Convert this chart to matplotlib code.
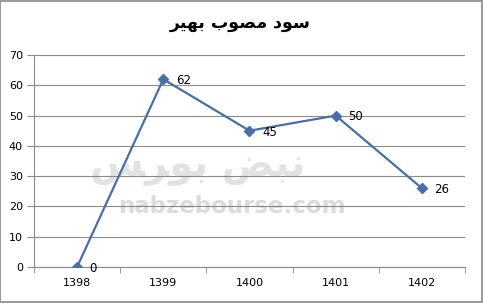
import numpy as np
import matplotlib.pyplot as plt
from matplotlib.patches import Rectangle

# data
years = ['1398', '1399', '1400', '1401', '1402']
profit = [0, 62, 45, 50, 26]

# Persian title, pre-shaped (presentation forms) in visual order
title = '\uFEAE\uFBFF\uFEEC\uFE91 \uFE8F\uFEEE\uFEBC\uFEE3 \uFEA9\uFEEE\uFEB3'
wm_fa = '\uFEB2\uFEAE\uFEEE\uFE91 \uFEBE\uFE92\uFEE7'

fig = plt.figure(figsize=(4.83, 3.03), dpi=100)
ax = fig.add_axes([34/483, 36/303, 431/483, 212/303])

x = np.arange(len(years))

# watermark
ax.text(1.8, 20, 'nabzebourse.com', fontsize=16.5, fontweight='bold',
        color='#dcdcdc', ha='center', va='center', zorder=0)
ax.text(1.4, 33, wm_fa, fontsize=28, fontweight='bold', color='#e2e2e2',
        ha='center', va='center', zorder=0, family='DejaVu Sans')

ax.plot(x, profit, color='#4a6ea8', lw=1.6, marker='D', ms=5,
        markerfacecolor='#4a6ea8', markeredgecolor='#4a6ea8', zorder=3)
for xi, v in zip(x, profit):
    ax.annotate(str(v), (xi, v), xytext=(9, -1), textcoords='offset points',
                fontsize=8.5, va='center', ha='left', color='black')

ax.set_xlim(-0.5, len(years) - 0.5)
ax.set_ylim(0, 70)
ax.set_yticks(range(0, 71, 10))
ax.yaxis.grid(True, color='#8a8a8a', lw=0.8)
ax.set_axisbelow(True)
ax.set_xticks(x)
ax.set_xticklabels(years)
ax.set_xticks(np.arange(-0.5, len(years)), minor=True)
ax.tick_params(axis='x', which='major', length=0, pad=8, labelsize=8)
ax.tick_params(axis='x', which='minor', length=4, color='#8a8a8a')
ax.tick_params(axis='y', length=5, color='#8a8a8a', labelsize=8, pad=3)
for s in ['top', 'right']:
    ax.spines[s].set_visible(False)
for s in ['left', 'bottom']:
    ax.spines[s].set_color('#8a8a8a')
    ax.spines[s].set_linewidth(0.8)

fig.text(240/483, 1 - 23/303, title, fontsize=12.5, fontweight='bold',
         ha='center', va='center', family='DejaVu Sans')

fig.patches.append(Rectangle((0.001, 0.002), 0.997, 0.995, transform=fig.transFigure,
                             fill=False, edgecolor='#888888', lw=1.2))

fig.savefig('out.png', dpi=100)
